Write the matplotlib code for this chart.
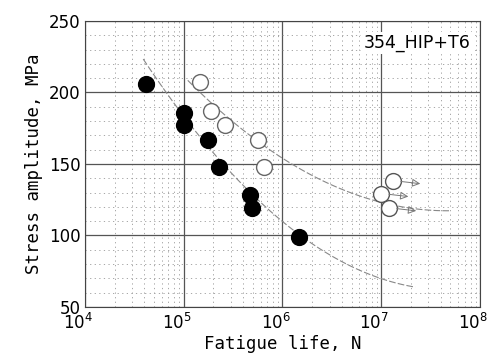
import matplotlib.pyplot as plt
import numpy as np
from matplotlib.ticker import FixedLocator, NullFormatter
from matplotlib.transforms import ScaledTranslation

# fatigue data (cycles, MPa)
failed_n = [4.2e4, 1.0e5, 1.02e5, 1.78e5, 2.3e5, 4.7e5, 4.9e5, 1.48e6]
failed_s = [206, 186, 177, 167, 148, 128, 119, 99]
open_n = [1.45e5, 1.9e5, 2.6e5, 5.7e5, 6.5e5]
open_s = [207, 187, 177, 167, 148]
runout_n = [1.0e7, 1.32e7, 1.2e7]
runout_s = [129, 138, 119]

# fitted curves
fit_failed_n = [3.9e4, 1.4e5, 4.5e5, 1.5e6, 5.0e6, 2.2e7]
fit_failed_s = [222, 174, 130, 99, 79, 64]
fit_open_n = [1.1e5, 3.0e5, 1.5e6, 5.0e6, 1.0e7, 5.0e7]
fit_open_s = [211, 177, 146, 131, 125, 116]


def smooth(ns, ss):
    # quadratic in log N through the read points, just for a smooth trace
    lx = np.log10(ns)
    c = np.polyfit(lx, ss, 2)
    xx = np.linspace(lx[0], lx[-1], 80)
    return 10 ** xx, np.polyval(c, xx)


plt.rcParams["font.family"] = ["DejaVu Sans"]
fig = plt.figure(figsize=(4.93, 3.62), dpi=100)
ax = fig.add_axes([0.172, 0.152, 0.802, 0.790])

ax.set_xscale("log")
ax.set_xlim(1e4, 1e8)
ax.set_ylim(50, 250)

minor_x = [m * 10.0 ** e for e in range(4, 8) for m in range(2, 10)]
ax.xaxis.set_minor_locator(FixedLocator(minor_x))
ax.xaxis.set_minor_formatter(NullFormatter())
ax.set_yticks([50, 100, 150, 200, 250])
ax.yaxis.set_minor_locator(FixedLocator(np.arange(60, 250, 10)))

ax.grid(which="major", color="#555555", lw=0.9, ls="-")
ax.grid(which="minor", color="#999999", lw=0.6, ls=(0, (1.5, 4)))
ax.tick_params(which="both", length=0, labelsize=12, pad=3)
ax.tick_params(axis="x", pad=4)
for sp in ax.spines.values():
    sp.set_linewidth(0.8)
    sp.set_color("#444444")

# the "10" of each decade label sits just left of its grid line
shift = ScaledTranslation(-7 / 100, 0, fig.dpi_scale_trans)
for lab in ax.get_xticklabels():
    lab.set_transform(lab.get_transform() + shift)

for ns, ss in [(fit_failed_n, fit_failed_s), (fit_open_n, fit_open_s)]:
    xs, ys = smooth(ns, ss)
    ax.plot(xs, ys, color="#888888", lw=0.8, ls=(0, (6, 2)))

ax.scatter(failed_n, failed_s, s=130, color="black", zorder=3)
ax.scatter(open_n, open_s, s=130, facecolor="white", edgecolor="#666666", lw=1.0, zorder=3)
ax.scatter(runout_n, runout_s, s=130, facecolor="white", edgecolor="#555555", lw=1.0, zorder=3)

for n, s in zip(runout_n, runout_s):
    ax.annotate("", xy=(n * 2.0, s - 2), xytext=(n * 1.12, s),
                arrowprops=dict(arrowstyle="-|>", color="#777777", lw=0.7,
                                mutation_scale=12, fill=False))

ax.text(0.975, 0.955, "354_HIP+T6", transform=ax.transAxes, ha="right", va="top",
        fontsize=12.5, bbox=dict(facecolor="white", edgecolor="none", pad=1.5), zorder=4)

ax.set_xlabel("Fatigue life, N", family="DejaVu Sans Mono", fontsize=12.5, labelpad=2)
ax.set_ylabel("Stress amplitude, MPa", family="DejaVu Sans Mono", fontsize=12.5, labelpad=4)

fig.savefig("out.png", dpi=100)
